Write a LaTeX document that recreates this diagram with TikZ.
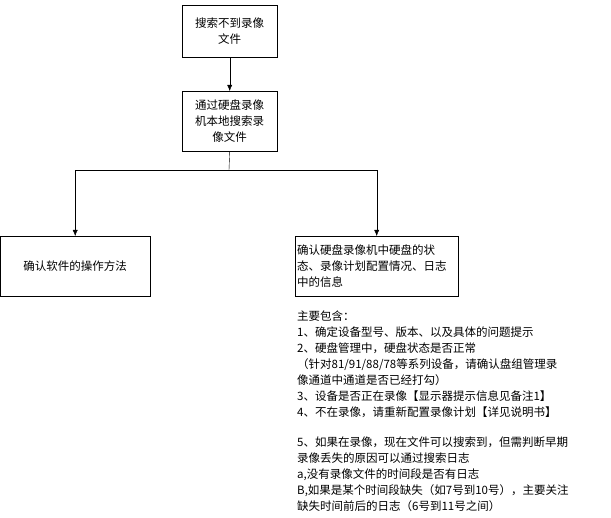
\documentclass[tikz,border=0pt]{standalone}
\usepackage{fontspec}
\setmainfont{Noto Sans CJK SC}
\usetikzlibrary{arrows.meta}
\tikzstyle{flow_box}=[rectangle, draw=black, fill=white, inner sep=2pt,
                      font=\fontsize{11.5}{16}\selectfont, anchor=north west]
\begin{document}
\begin{tikzpicture}[x=1pt, y=-1pt, >={Latex[length=6pt,width=5pt]}]
    \useasboundingbox (0,0) rectangle (611,518);
    % ---------------------------------------------------------------
    \node (Search) [flow_box, minimum width=95pt, minimum height=52pt, align=center] at (182,5) {搜索不到录像\\文件};
    \node (Local) [flow_box, minimum width=95pt, minimum height=60pt, align=center] at (182,91) {通过硬盘录像\\机本地搜索录\\像文件};
    \node (Soft) [flow_box, minimum width=150pt, minimum height=60pt, align=center] at (0,236) {确认软件的操作方法};
    \node (Disk) [flow_box, minimum width=163pt, minimum height=60pt, align=left, text width=159pt] at (295,236) {确认硬盘录像机中硬盘的状\\态、录像计划配置情况、日志\\中的信息};
    \coordinate (Split) at (229,170);

    \draw[->] (Search.south) -- (Local.north);
    \draw (Local.south) -- (Split);
    \draw[->] (Split) -| (Soft.north);
    \draw[->] (Split) -| (Disk.north);

    % ---------------------------------------------------------------
    \node (Notes) [anchor=north west, align=left, inner sep=0pt, font=\fontsize{11.5}{16}\selectfont] at (297,311) {主要包含：\\
1、确定设备型号、版本、以及具体的问题提示\\
2、硬盘管理中，硬盘状态是否正常\\
（针对81/91/88/78等系列设备，请确认盘组管理录\\
像通道中通道是否已经打勾）\\
3、设备是否正在录像【显示器提示信息见备注1】\\
4、不在录像，请重新配置录像计划【详见说明书】\\[14pt]
5、如果在录像，现在文件可以搜索到，但需判断早期\\
录像丢失的原因可以通过搜索日志\\
a,没有录像文件的时间段是否有日志\\
B,如果是某个时间段缺失（如7号到10号），主要关注\\
缺失时间前后的日志（6号到11号之间）};
\end{tikzpicture}
\end{document}
